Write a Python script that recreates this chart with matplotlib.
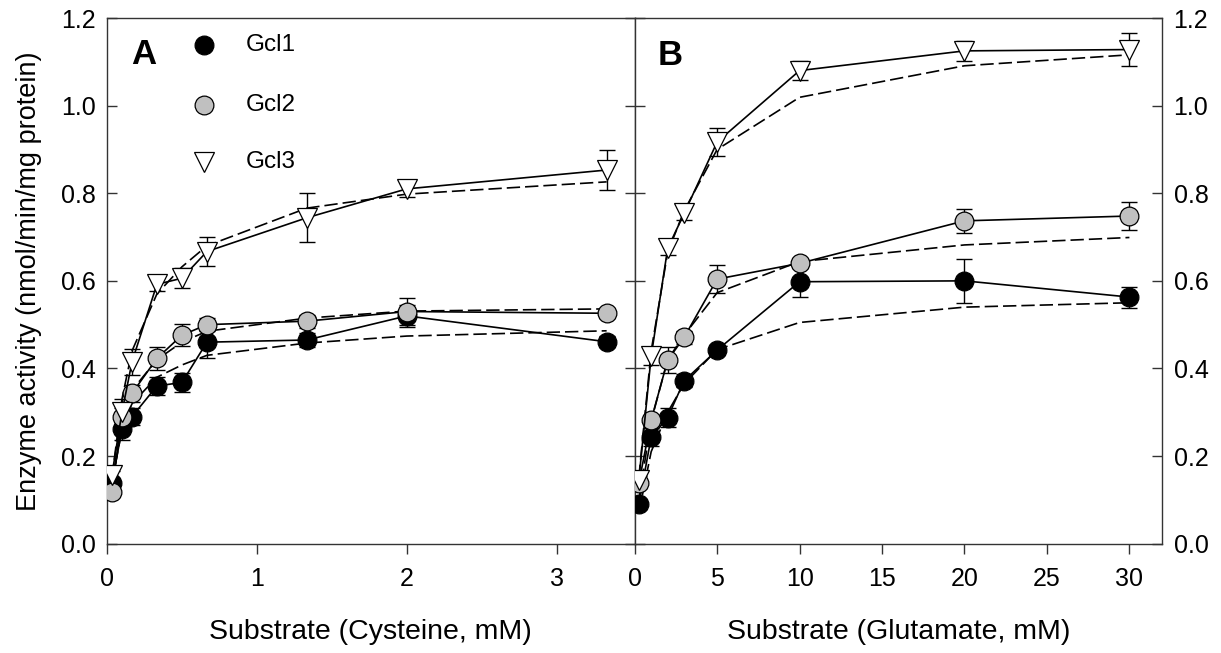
import matplotlib.pyplot as plt
import numpy as np

plt.rcParams['font.family'] = ['Liberation Sans', 'DejaVu Sans']

# Panel A: cysteine
cys_x = [0.033, 0.1, 0.167, 0.333, 0.5, 0.667, 1.333, 2.0, 3.333]
cys_gcl1 = [0.138, 0.261, 0.29, 0.36, 0.368, 0.46, 0.465, 0.52, 0.461]
cys_gcl2 = [0.119, 0.29, 0.343, 0.423, 0.476, 0.5, 0.508, 0.53, 0.526]
cys_gcl3 = [0.157, 0.30, 0.415, 0.592, 0.606, 0.667, 0.744, 0.81, 0.853]
cys_gcl1_err = [0.008, 0.025, 0.02, 0.02, 0.022, 0.035, 0.015, 0.025, 0.012]
cys_gcl2_err = [0.01, 0.02, 0.02, 0.027, 0.025, 0.015, 0.015, 0.031, 0.01]
cys_gcl3_err = [0.01, 0.03, 0.03, 0.015, 0.023, 0.034, 0.056, 0.019, 0.046]
cys_gcl1_fit = [0.14, 0.26, 0.32, 0.38, 0.408, 0.43, 0.458, 0.474, 0.486]
cys_gcl2_fit = [0.13, 0.29, 0.35, 0.42, 0.46, 0.485, 0.515, 0.531, 0.536]
cys_gcl3_fit = [0.15, 0.33, 0.44, 0.57, 0.632, 0.68, 0.766, 0.798, 0.826]

# Panel B: glutamate
glu_x = [0.25, 1, 2, 3, 5, 10, 20, 30]
glu_gcl1 = [0.09, 0.243, 0.288, 0.372, 0.442, 0.598, 0.6, 0.563]
glu_gcl2 = [0.138, 0.282, 0.419, 0.471, 0.604, 0.64, 0.737, 0.748]
glu_gcl3 = [0.145, 0.428, 0.674, 0.754, 0.917, 1.08, 1.125, 1.128]
glu_gcl1_err = [0.01, 0.02, 0.022, 0.015, 0.01, 0.034, 0.05, 0.024]
glu_gcl2_err = [0.01, 0.01, 0.029, 0.015, 0.032, 0.01, 0.028, 0.032]
glu_gcl3_err = [0.01, 0.02, 0.015, 0.015, 0.032, 0.022, 0.023, 0.037]
glu_gcl1_fit = [0.07, 0.21, 0.30, 0.365, 0.443, 0.505, 0.54, 0.55]
glu_gcl2_fit = [0.10, 0.28, 0.42, 0.476, 0.573, 0.644, 0.682, 0.699]
glu_gcl3_fit = [0.15, 0.44, 0.665, 0.76, 0.90, 1.019, 1.091, 1.116]

labels = ['Gcl1', 'Gcl2', 'Gcl3']
styles = [dict(marker='o', mfc='black', ms=13.5),
          dict(marker='o', mfc='#c0c0c0', ms=13.5),
          dict(marker='v', mfc='white', ms=15)]

fig = plt.figure(figsize=(12.21, 6.53), dpi=100)
axA = fig.add_axes([0.0876, 0.1674, 0.4322, 0.805])
axB = fig.add_axes([0.5198, 0.1674, 0.4322, 0.805])

dash = (0, (8, 3))


def draw(ax, x, ys, errs, fits):
    for y, e, f, st in zip(ys, errs, fits, styles):
        ax.plot(x, f, color='black', lw=1.2, ls=dash, zorder=2)
        ax.errorbar(x, y, yerr=e, fmt='none', ecolor='black', elinewidth=1.0,
                    capsize=6, capthick=1.0, zorder=2)
        ax.plot(x, y, color='black', lw=1.2, marker=st['marker'], ms=st['ms'],
                mfc=st['mfc'], mec='black', mew=0.9, zorder=3)


draw(axA, cys_x, [cys_gcl1, cys_gcl2, cys_gcl3],
     [cys_gcl1_err, cys_gcl2_err, cys_gcl3_err],
     [cys_gcl1_fit, cys_gcl2_fit, cys_gcl3_fit])
draw(axB, glu_x, [glu_gcl1, glu_gcl2, glu_gcl3],
     [glu_gcl1_err, glu_gcl2_err, glu_gcl3_err],
     [glu_gcl1_fit, glu_gcl2_fit, glu_gcl3_fit])

axA.set_xlim(0, 3.52)
axB.set_xlim(0, 32)
for ax in (axA, axB):
    ax.set_ylim(0, 1.2)
    ax.set_yticks(np.arange(0, 1.21, 0.2))
    for s in ax.spines.values():
        s.set_linewidth(1.0)
        s.set_color('#333333')
    ax.tick_params(axis='x', direction='out', length=7, width=1.0,
                   labelsize=18, pad=10, color='#333333')
    ax.tick_params(axis='y', direction='in', length=7, width=1.0,
                   labelsize=18, pad=8, left=True, right=True, color='#333333')

axA.set_xticks([0, 1, 2, 3])
axB.set_xticks([0, 5, 10, 15, 20, 25, 30])
axA.yaxis.set_major_formatter(plt.FormatStrFormatter('%.1f'))
axB.yaxis.set_major_formatter(plt.FormatStrFormatter('%.1f'))
axB.tick_params(axis='y', labelleft=False, labelright=True)

axA.set_xlabel('Substrate (Cysteine, mM)', fontsize=20.5, labelpad=20)
axB.set_xlabel('Substrate (Glutamate, mM)', fontsize=20.5, labelpad=20)
axA.set_ylabel('Enzyme activity (nmol/min/mg protein)', fontsize=19.5, labelpad=14)

axA.text(0.07, 0.93, 'A', transform=axA.transAxes, fontsize=25,
         fontweight='bold', ha='center', va='center')
axB.text(0.067, 0.928, 'B', transform=axB.transAxes, fontsize=25,
         fontweight='bold', ha='center', va='center')

# legend
leg_y = [0.949, 0.835, 0.727]
for yy, lab, st in zip(leg_y, labels, styles):
    axA.plot([0.184], [yy], transform=axA.transAxes, ls='none',
             marker=st['marker'], ms=st['ms'], mfc=st['mfc'], mec='black',
             mew=0.9, clip_on=False)
    axA.text(0.263, yy, lab, transform=axA.transAxes, fontsize=17.5,
             va='center', ha='left')

fig.savefig('out.png', dpi=100)
